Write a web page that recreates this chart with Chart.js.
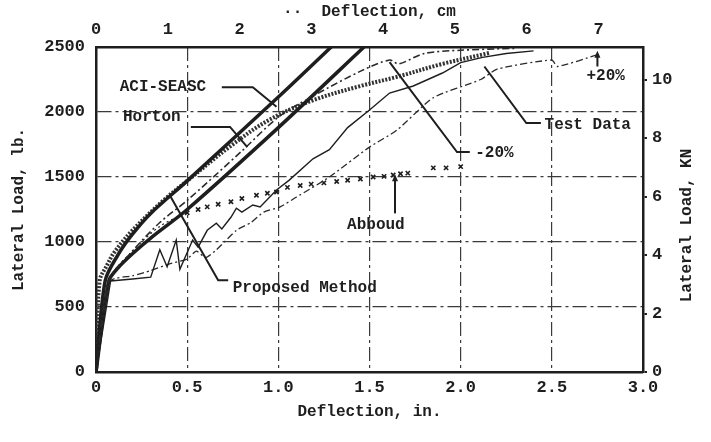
<!DOCTYPE html>
<html>
<head>
<meta charset="utf-8">
<script src="https://cdn.jsdelivr.net/npm/chart.js@4.4.1/dist/chart.umd.min.js"></script>
<style>
  html, body { margin: 0; padding: 0; background: #fff; }
  #wrap { width: 711px; height: 442px; }
</style>
</head>
<body>
<div id="wrap"><canvas id="chart"></canvas></div>
<script>
// Lateral load (lb) vs deflection (in)

const proposedX = [0, 0.02, 0.06, 0.1, 0.2, 0.37, 0.5, 0.74, 0.95, 1.19, 1.45, 1.65, 1.9, 2.16];
const proposedY = [0, 700, 820, 920, 1090, 1320, 1470, 1740, 1940, 2090, 2200, 2270, 2370, 2455];

const aciX = [0, 0.05, 0.12, 0.2, 0.3, 0.5, 1.0, 1.29];
const aciY = [0, 700, 900, 1060, 1220, 1470, 2115, 2500];

const hortonX = [0, 0.07, 0.12, 0.2, 0.3, 0.5, 1.0, 1.47];
const hortonY = [0, 700, 800, 910, 1030, 1250, 1880, 2500];

const minus20X = [0, 0.07, 0.2, 0.35, 0.5, 0.8, 1.0, 1.2, 1.46, 1.61, 1.66, 1.8, 2.0, 2.3];
const minus20Y = [0, 700, 930, 1150, 1320, 1700, 1960, 2130, 2320, 2400, 2370, 2450, 2475, 2490];

const plus20X = [0, 0.08, 0.2, 0.3, 0.4, 0.5, 0.55, 0.6, 0.66, 0.77, 0.85, 0.92, 1.01, 1.1, 1.28, 1.5, 1.65, 1.85, 2.11, 2.2, 2.5, 2.53, 2.75];
const plus20Y = [0, 700, 740, 780, 830, 870, 930, 880, 940, 1090, 1150, 1230, 1270, 1346, 1500, 1730, 1860, 2110, 2250, 2330, 2400, 2350, 2440];

const testX = [0, 0.08, 0.2, 0.3, 0.35, 0.39, 0.44, 0.46, 0.53, 0.56, 0.61, 0.66, 0.69, 0.74, 0.77, 0.8, 0.86, 0.9, 0.99, 1.06, 1.19, 1.28, 1.38, 1.5, 1.61, 1.74, 1.9, 2.0, 2.12, 2.25, 2.4];
const testY = [0, 700, 715, 730, 940, 810, 1015, 790, 1015, 960, 1090, 1145, 1100, 1190, 1260, 1230, 1285, 1270, 1400, 1476, 1640, 1710, 1880, 2015, 2146, 2200, 2300, 2380, 2420, 2450, 2470];

const abboudX = [0, 0.08, 0.2, 0.35, 0.5, 0.56, 0.61, 0.67, 0.74, 0.8, 0.88, 0.94, 0.99, 1.05, 1.12, 1.18, 1.25, 1.32, 1.38, 1.45, 1.52, 1.58, 1.63, 1.67, 1.71, 1.85, 1.92, 2.0];
const abboudY = [0, 720, 930, 1120, 1225, 1250, 1270, 1290, 1310, 1335, 1360, 1375, 1385, 1420, 1435, 1445, 1455, 1465, 1475, 1485, 1500, 1505, 1515, 1525, 1530, 1570, 1570, 1580];

// secondary axes
const cmTicks = [0, 1, 2, 3, 4, 5, 6, 7];
const knTicks = [0, 2, 4, 6, 8, 10];
const lbPerKN = 224.809;
const cmPerIn = 2.54;

// curve labels: text anchor and leader line, in data units
const labels = [
  { text: 'ACI-SEASC', at: [0.13, 2190], leader: [[0.69, 2190], [0.86, 2190], [0.99, 2040]] },
  { text: 'Horton', at: [0.148, 1960], leader: [[0.52, 1885], [0.735, 1885], [0.83, 1730]] },
  { text: 'Proposed Method', at: [0.75, 646], leader: [[0.725, 705], [0.67, 705], [0.41, 1346]] },
  { text: 'Abboud', at: [1.377, 1130], leader: [[1.64, 1220], [1.64, 1490]], arrow: true },
  { text: 'Test Data', at: [2.46, 1900], leader: [[2.44, 1915], [2.36, 1915], [2.13, 2350]] },
  { text: '-20%', at: [2.08, 1684], leader: [[2.05, 1692], [1.98, 1692], [1.61, 2384]] },
  { text: '+20%', at: [2.69, 2276], leader: [[2.75, 2350], [2.75, 2440]], arrow: true }
];

const pts = (xs, ys) => xs.map((x, i) => ({ x, y: ys[i] }));
const ink = '#1e1e1e';
const mono = "'Liberation Mono', 'DejaVu Sans Mono', monospace";

const labelPlugin = {
  id: 'curveLabels',
  afterDatasetsDraw(chart) {
    const { ctx, scales: { x, y } } = chart;
    ctx.save();
    ctx.strokeStyle = ink;
    ctx.fillStyle = ink;
    ctx.lineWidth = 2;
    labels.forEach(l => {
      ctx.beginPath();
      l.leader.forEach((p, i) => {
        const px = x.getPixelForValue(p[0]), py = y.getPixelForValue(p[1]);
        if (i === 0) ctx.moveTo(px, py); else ctx.lineTo(px, py);
      });
      ctx.stroke();
      if (l.arrow) {
        const tip = l.leader[l.leader.length - 1];
        const tx = x.getPixelForValue(tip[0]), ty = y.getPixelForValue(tip[1]);
        ctx.beginPath();
        ctx.moveTo(tx, ty - 4);
        ctx.lineTo(tx + 3, ty + 3);
        ctx.lineTo(tx - 3, ty + 3);
        ctx.closePath();
        ctx.fill();
      }
      ctx.font = 'bold 16px ' + mono;
      ctx.textBaseline = 'middle';
      ctx.textAlign = 'left';
      ctx.fillText(l.text, x.getPixelForValue(l.at[0]), y.getPixelForValue(l.at[1]));
    });
    ctx.restore();
  },
  afterDraw(chart) {
    // right-hand title reads bottom to top, like the left one
    const { ctx, chartArea } = chart;
    ctx.save();
    ctx.fillStyle = ink;
    ctx.font = 'bold 16px ' + mono;
    ctx.textAlign = 'center';
    ctx.textBaseline = 'middle';
    ctx.translate(chart.width - 24, (chartArea.top + chartArea.bottom) / 2 + 16);
    ctx.rotate(-Math.PI / 2);
    ctx.fillText('Lateral Load, KN', 0, 0);
    ctx.restore();
  }
};

const gridStyle = { color: '#3a3a3a', lineWidth: 1.2, drawTicks: false };
const borderStyle = { color: ink, width: 2.5, dash: [14, 4, 3, 4] };
const tickFont = { family: mono, size: 17, weight: 'bold' };
const titleFont = { family: mono, size: 16, weight: 'bold' };

new Chart(document.getElementById('chart'), {
  type: 'line',
  data: {
    datasets: [
      {
        label: 'Test Data', data: pts(testX, testY),
        borderColor: ink, borderWidth: 1.4, pointRadius: 0, tension: 0
      },
      {
        label: '+20%', data: pts(plus20X, plus20Y),
        borderColor: '#2a2a2a', borderWidth: 1.3, borderDash: [7, 3, 2, 3], pointRadius: 0, tension: 0.2
      },
      {
        label: '-20%', data: pts(minus20X, minus20Y),
        borderColor: '#2a2a2a', borderWidth: 1.6, borderDash: [7, 3, 2, 3], pointRadius: 0, tension: 0.3
      },
      {
        label: 'Abboud', data: pts(abboudX, abboudY),
        borderColor: ink, borderWidth: 1.2, borderDash: [2, 3], tension: 0.3,
        pointStyle: 'crossRot', pointBorderColor: ink, pointBorderWidth: 1.6,
        pointRadius: ctx => (ctx.raw && ctx.raw.x >= 0.5 ? 3 : 0),
        segment: { borderColor: ctx => (ctx.p0.parsed.x >= 0.49 ? 'rgba(0,0,0,0)' : undefined) }
      },
      {
        label: 'Horton', data: pts(hortonX, hortonY),
        borderColor: ink, borderWidth: 3.5, pointRadius: 0, tension: 0.3
      },
      {
        label: 'ACI-SEASC', data: pts(aciX, aciY),
        borderColor: ink, borderWidth: 3.5, pointRadius: 0, tension: 0.3
      },
      {
        label: 'Proposed Method', data: pts(proposedX, proposedY),
        borderColor: '#333', borderWidth: 4, borderDash: [2, 1.5], pointRadius: 0, tension: 0.35
      }
    ]
  },
  options: {
    responsive: true,
    maintainAspectRatio: false,
    animation: false,
    layout: { padding: 0 },
    plugins: {
      legend: { display: false },
      tooltip: { enabled: false }
    },
    scales: {
      x: {
        type: 'linear', position: 'bottom', min: 0, max: 3,
        afterFit: s => { s.height = 70; },
        grid: gridStyle, border: borderStyle,
        ticks: {
          stepSize: 0.5, padding: 6, color: ink, font: tickFont, maxRotation: 0,
          callback: v => (v === 0 ? '0' : v.toFixed(1))
        },
        title: { display: true, text: 'Deflection, in.', color: ink, font: titleFont, padding: { top: 0, bottom: 20 } }
      },
      xTop: {
        type: 'linear', position: 'top', display: true, min: 0, max: 3 * cmPerIn,
        afterFit: s => { s.height = 47; },
        afterBuildTicks: s => { s.ticks = cmTicks.map(v => ({ value: v })); },
        grid: { drawOnChartArea: false, drawTicks: false },
        border: { color: ink, width: 2.5 },
        ticks: {
          padding: 7, color: ink, font: tickFont, maxRotation: 0, autoSkip: false,
          callback: v => String(v)
        },
        title: { display: true, text: '··  Deflection, cm', color: ink, font: titleFont, padding: { top: 2, bottom: 0 } }
      },
      y: {
        type: 'linear', position: 'left', min: 0, max: 2500,
        afterFit: s => { s.width = 96; },
        grid: gridStyle, border: borderStyle,
        ticks: { stepSize: 500, padding: 11, color: ink, font: tickFont, callback: v => String(v) },
        title: { display: true, text: 'Lateral Load, lb.', color: ink, font: titleFont, padding: { top: 9, bottom: 0 } }
      },
      yKN: {
        type: 'linear', position: 'right', display: true, min: 0, max: 2500 / lbPerKN,
        afterFit: s => { s.width = 68; },
        afterBuildTicks: s => { s.ticks = knTicks.map(v => ({ value: v })); },
        grid: { drawOnChartArea: false, drawTicks: true, tickLength: 4, color: ink, lineWidth: 2 },
        border: { color: ink, width: 2.5 },
        ticks: { padding: 5, color: ink, font: tickFont, autoSkip: false, callback: v => String(v) }
      }
    }
  },
  plugins: [labelPlugin]
});
</script>
</body>
</html>
